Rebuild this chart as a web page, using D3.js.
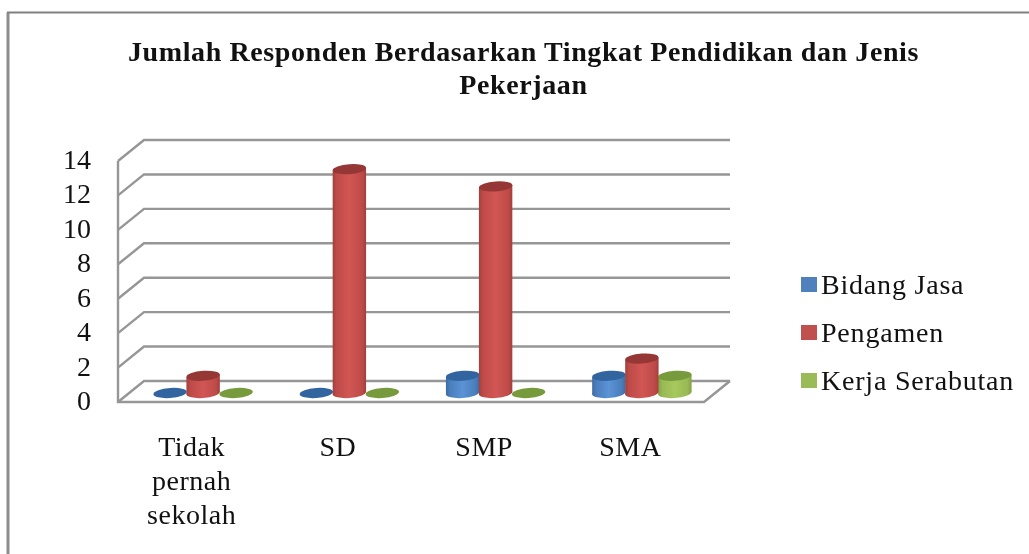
<!DOCTYPE html>
<html><head><meta charset="utf-8">
<script src="https://cdn.jsdelivr.net/npm/d3@7/dist/d3.min.js"></script>
<style>
html,body{margin:0;padding:0;background:#fff;overflow:hidden}
svg{display:block;filter:blur(0.6px)}
text{font-family:"Liberation Serif",serif;fill:#111}
</style></head><body>
<svg id="c" width="1029" height="554"></svg>
<script>
const categories=["Tidak pernah sekolah","SD","SMP","SMA"];
const categoryLines=[["Tidak","pernah","sekolah"],["SD"],["SMP"],["SMA"]];
const seriesNames=["Bidang Jasa","Pengamen","Kerja Serabutan"];
const bidangJasa=[0,0,1,1];
const pengamen=[1,13,12,2];
const kerjaSerabutan=[0,0,0,1];
const yTicks=[0,2,4,6,8,10,12,14];
const titleLines=["Jumlah Responden Berdasarkan Tingkat Pendidikan dan Jenis","Pekerjaan"];
const palette=[
 {side:"#4a7ebb",light:"#5b93d6",dark:"#3a6ba5",top:"#32659f",leg:"#4f81bd"},
 {side:"#be4b48",light:"#d15654",dark:"#a23f3d",top:"#953735",leg:"#c0504d"},
 {side:"#98b954",light:"#a6c95c",dark:"#82a145",top:"#779a3c",leg:"#9bbb59"}];
const svg=d3.select("#c");
const defs=svg.append("defs");
palette.forEach((p,i)=>{
 const g=defs.append("linearGradient").attr("id","g"+i);
 [[0,p.dark],[.12,p.side],[.5,p.light],[.88,p.side],[1,p.dark]].forEach(s=>g.append("stop").attr("offset",s[0]).attr("stop-color",s[1]));
});
// frame
svg.append("path").attr("d","M8,554V12.5").attr("fill","none").attr("stroke","#8c8c8c").attr("stroke-width",3);
svg.append("path").attr("d","M7,12.5H1029").attr("fill","none").attr("stroke","#808080").attr("stroke-width",2);
// title
svg.selectAll("text.title").data(titleLines).join("text").attr("class","title")
 .attr("x",523.5).attr("y",(d,i)=>61+i*33).attr("text-anchor","middle")
 .attr("font-size",28).attr("font-weight","bold").attr("letter-spacing",0.6).text(d=>d);
// scales
const dx=26,dy=-21;
const floorLeft=118,floorRight=704,frontBase=402;
const yFront=d3.scaleLinear().domain([0,14]).range([frontBase,161]);
const x=d3.scaleBand().domain(categories).range([130,715]);
const xSeries=d3.scaleBand().domain(seriesNames).range([0,99]);
const grid="#969696";
const wall=svg.append("g").attr("fill","none").attr("stroke",grid).attr("stroke-width",2.4);
yTicks.forEach(t=>{
 const y=yFront(t);
 wall.append("path").attr("d",`M${floorLeft},${y}L${floorLeft+dx},${y+dy}H${floorRight+dx}`);
});
wall.append("path").attr("d",`M${floorLeft},${yFront(14)}V${frontBase}H${floorRight}L${floorRight+dx},${frontBase+dy}`);
// y labels
svg.selectAll("text.yt").data(yTicks).join("text").attr("class","yt")
 .attr("x",91).attr("y",d=>yFront(d)+8).attr("text-anchor","end")
 .attr("font-size",28).text(d=>d);
// x labels
const xl=svg.selectAll("g.xl").data(categories).join("g").attr("class","xl")
 .attr("transform",d=>`translate(${x(d)+x.bandwidth()/2-11.5},0)`);
xl.each(function(d,i){
 d3.select(this).selectAll("text").data(categoryLines[i]).join("text")
  .attr("y",(l,j)=>456+j*34).attr("text-anchor","middle").attr("font-size",28).attr("letter-spacing",0.5).text(l=>l);
});
// cylinders
const rx=16.7,ry=5,tilt=-4;
const baseY=393;
const h=d3.scaleLinear().domain([0,14]).range([0,yFront(0)-yFront(14)]);
const allSeries=[bidangJasa,pengamen,kerjaSerabutan];
const order=[0,2,1];
const cylG=svg.append("g");
categories.forEach(c=>{
 const ci=categories.indexOf(c);
 order.forEach(si=>{
  const v=allSeries[si][ci];
  const cx=x(c)+(x.bandwidth()-99)/2+xSeries(seriesNames[si])+xSeries.bandwidth()/2;
  const H=h(v);
  const g=cylG.append("g").attr("transform",`translate(${cx},${baseY}) skewY(${tilt})`);
  if(v>0){
   g.append("rect").attr("x",-rx).attr("y",-H).attr("width",2*rx).attr("height",H).attr("fill",`url(#g${si})`);
   g.append("ellipse").attr("rx",rx).attr("ry",ry).attr("fill",`url(#g${si})`);
  }
  g.append("ellipse").attr("cy",-H).attr("rx",rx).attr("ry",ry).attr("fill",palette[si].top);
 });
});
// legend
const leg=svg.selectAll("g.leg").data(seriesNames).join("g").attr("class","leg")
 .attr("transform",(d,i)=>`translate(801,${285+i*48})`);
leg.append("rect").attr("x",0).attr("y",-8).attr("width",16).attr("height",15).attr("fill",(d,i)=>palette[i].leg);
leg.append("text").attr("x",20).attr("y",9).attr("font-size",28).attr("letter-spacing",0.8).text(d=>d);
</script></body></html>
